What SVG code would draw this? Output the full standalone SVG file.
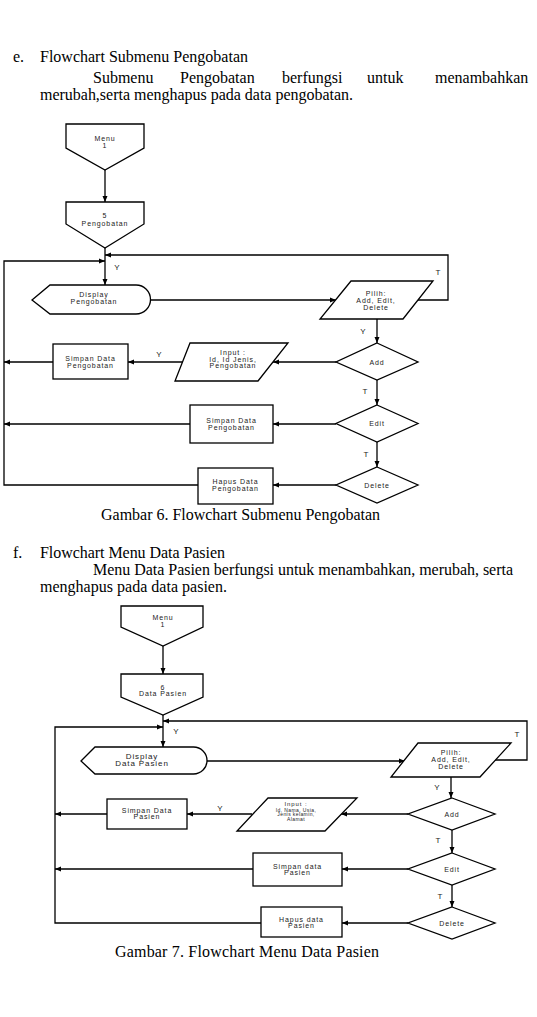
<svg xmlns="http://www.w3.org/2000/svg" width="537" height="1017" viewBox="0 0 537 1017">
<style>
.body{font-family:"Liberation Serif","Times New Roman",serif;font-size:16px;fill:#000}
.sh{fill:#fff;stroke:#000;stroke-width:1.3}
.ln{fill:none;stroke:#000;stroke-width:1.3}
.ar{marker-end:url(#ah)}
.t{font-family:"Liberation Sans",Arial,sans-serif;font-size:7px;letter-spacing:0.9px;fill:#222;text-anchor:middle}
.ts{font-family:"Liberation Sans",Arial,sans-serif;font-size:5px;letter-spacing:0.4px;fill:#222;text-anchor:middle}
.lb{font-family:"Liberation Sans",Arial,sans-serif;font-size:8px;fill:#222;text-anchor:middle}
</style>
<defs>
<marker id="ah" markerUnits="userSpaceOnUse" markerWidth="6" markerHeight="6" refX="6" refY="3" orient="auto">
<path d="M0,0.5 L6,3 L0,5.5 z" fill="#000"/>
</marker>
</defs>
<rect width="537" height="1017" fill="#fff"/>

<g id="text-e">
<text class="body" x="13" y="62">e.</text>
<text class="body" x="40" y="62" textLength="208">Flowchart Submenu Pengobatan</text>
<text class="body" x="93" y="83">Submenu</text>
<text class="body" x="180" y="83">Pengobatan</text>
<text class="body" x="282" y="83">berfungsi</text>
<text class="body" x="367" y="83">untuk</text>
<text class="body" x="435" y="83">menambahkan</text>
<text class="body" x="40" y="99.5" textLength="313">merubah,serta menghapus pada data pengobatan.</text>
<text class="body" x="101" y="520" textLength="279">Gambar 6. Flowchart Submenu Pengobatan</text>
</g>

<g id="connectors1">
<line class="ln ar" x1="105" y1="170" x2="105" y2="202"/>
<line class="ln ar" x1="105" y1="248" x2="105" y2="285"/>
<polyline class="ln ar" points="198,485 4,485 4,261 105,261"/>
<polyline class="ln ar" points="418,300 448,300 448,255 105,255"/>
<line class="ln ar" x1="150" y1="300" x2="336" y2="300"/>
<line class="ln ar" x1="377" y1="319" x2="377" y2="343"/>
<line class="ln ar" x1="336" y1="362" x2="273" y2="362"/>
<line class="ln ar" x1="183" y1="362" x2="128" y2="362"/>
<line class="ln ar" x1="53" y1="362" x2="4" y2="362"/>
<line class="ln ar" x1="377" y1="380" x2="377" y2="405"/>
<line class="ln ar" x1="336" y1="424" x2="273" y2="424"/>
<line class="ln ar" x1="190" y1="424" x2="4" y2="424"/>
<line class="ln ar" x1="377" y1="442" x2="377" y2="467"/>
<line class="ln ar" x1="336" y1="485" x2="273" y2="485"/>
<text class="lb" x="117" y="270">Y</text>
<text class="lb" x="438" y="275">T</text>
<text class="lb" x="363" y="334">Y</text>
<text class="lb" x="159" y="357">Y</text>
<text class="lb" x="365" y="394">T</text>
<text class="lb" x="366" y="457">T</text>
</g>

<g id="menu1-a">
<polygon class="sh" points="66,124 144,124 144,148 105,170 66,148"/>
<text class="t" x="105" y="140.5">Menu</text>
<text class="t" x="105" y="147.5">1</text>
</g>
<g id="pengobatan5">
<polygon class="sh" points="66,202 144,202 144,224 105,248 66,224"/>
<text class="t" x="105" y="218">5</text>
<text class="t" x="105" y="226">Pengobatan</text>
</g>
<g id="display-a">
<path class="sh" d="M32,300 L50,285 H136 A14.5,14.5 0 0 1 136,314 H50 Z"/>
<text class="t" x="94" y="297">Display</text>
<text class="t" x="94" y="304">Pengobatan</text>
</g>
<g id="pilih-a">
<polygon class="sh" points="351,281 433,281 403,319 320,319"/>
<text class="t" x="376" y="295.5">Pilih:</text>
<text class="t" x="376" y="302.5">Add, Edit,</text>
<text class="t" x="376" y="309.5">Delete</text>
</g>
<g id="add-a">
<polygon class="sh" points="377,343 418,362 377,380 336,362"/>
<text class="t" x="377" y="364.5">Add</text>
</g>
<g id="edit-a">
<polygon class="sh" points="377,405 418,423.5 377,442 336,423.5"/>
<text class="t" x="377" y="426">Edit</text>
</g>
<g id="delete-a">
<polygon class="sh" points="377,467 418,485 377,503 336,485"/>
<text class="t" x="377" y="487.5">Delete</text>
</g>
<g id="input-a">
<polygon class="sh" points="190,343 288,343 258,381 175,381"/>
<text class="t" x="233" y="354.5">Input :</text>
<text class="t" x="233" y="361.5">Id, Id Jenis,</text>
<text class="t" x="233" y="368">Pengobatan</text>
</g>
<g id="simpan-a1">
<rect class="sh" x="53" y="344" width="75" height="35"/>
<text class="t" x="90.5" y="360.5">Simpan Data</text>
<text class="t" x="90.5" y="367.5">Pengobatan</text>
</g>
<g id="simpan-a2">
<rect class="sh" x="190" y="405" width="83" height="38"/>
<text class="t" x="231.5" y="423">Simpan Data</text>
<text class="t" x="231.5" y="430">Pengobatan</text>
</g>
<g id="hapus-a">
<rect class="sh" x="198" y="468" width="75" height="36"/>
<text class="t" x="235.5" y="484">Hapus Data</text>
<text class="t" x="235.5" y="490.5">Pengobatan</text>
</g>

<g id="text-f">
<text class="body" x="13" y="558">f.</text>
<text class="body" x="40" y="558" textLength="185">Flowchart Menu Data Pasien</text>
<text class="body" x="93" y="575" textLength="420">Menu Data Pasien berfungsi untuk menambahkan, merubah, serta</text>
<text class="body" x="40" y="592" textLength="187">menghapus pada data pasien.</text>
<text class="body" x="115" y="957" textLength="264">Gambar 7. Flowchart Menu Data Pasien</text>
</g>

<g id="connectors2">
<line class="ln ar" x1="163" y1="646" x2="163" y2="674"/>
<line class="ln ar" x1="163" y1="715" x2="163" y2="747"/>
<polyline class="ln ar" points="495,760 527,760 527,721 163,721"/>
<polyline class="ln ar" points="261,923 55,923 55,727 163,727"/>
<line class="ln ar" x1="207" y1="761" x2="405" y2="761"/>
<line class="ln ar" x1="451" y1="777" x2="451" y2="798"/>
<line class="ln ar" x1="408" y1="814" x2="341" y2="814"/>
<line class="ln ar" x1="252" y1="814" x2="187" y2="814"/>
<line class="ln ar" x1="107" y1="814" x2="55" y2="814"/>
<line class="ln ar" x1="452" y1="830" x2="452" y2="853"/>
<line class="ln ar" x1="408" y1="869" x2="342" y2="869"/>
<line class="ln ar" x1="253" y1="869" x2="55" y2="869"/>
<line class="ln ar" x1="452" y1="885" x2="452" y2="907"/>
<line class="ln ar" x1="408" y1="923" x2="342" y2="923"/>
<text class="lb" x="176" y="734">Y</text>
<text class="lb" x="517" y="737">T</text>
<text class="lb" x="437" y="790">Y</text>
<text class="lb" x="220" y="811">Y</text>
<text class="lb" x="438" y="843">T</text>
<text class="lb" x="440" y="899">T</text>
</g>

<g id="menu1-b">
<polygon class="sh" points="121,606 203,606 203,627 163,646 121,627"/>
<text class="t" x="163" y="619.5">Menu</text>
<text class="t" x="163" y="626.5">1</text>
</g>
<g id="datapasien6">
<polygon class="sh" points="121,674 203,674 203,697 163,715 121,697"/>
<text class="t" x="163" y="689.5">6</text>
<text class="t" x="163" y="696">Data Pasien</text>
</g>
<g id="display-b">
<path class="sh" d="M81,761 L95,747 H193.5 A13.5,13.5 0 0 1 193.5,774 H95 Z"/>
<text class="t" x="142" y="759" style="font-size:8px">Display</text>
<text class="t" x="142" y="766" style="font-size:8px">Data Pasien</text>
</g>
<g id="pilih-b">
<polygon class="sh" points="418,743 511,743 480,777 391,777"/>
<text class="t" x="451" y="754.5">Pilih:</text>
<text class="t" x="451" y="762">Add, Edit,</text>
<text class="t" x="451" y="769">Delete</text>
</g>
<g id="add-b">
<polygon class="sh" points="452,798 495,814 452,830 408,814"/>
<text class="t" x="452" y="816.5">Add</text>
</g>
<g id="edit-b">
<polygon class="sh" points="452,853 495,869 452,885 408,869"/>
<text class="t" x="452" y="871.5">Edit</text>
</g>
<g id="delete-b">
<polygon class="sh" points="452,907 495,923 452,939 408,923"/>
<text class="t" x="452" y="925.5">Delete</text>
</g>
<g id="input-b">
<polygon class="sh" points="268,798 357,798 325,831 237,831"/>
<text class="t" x="296" y="806" style="font-size:6px">Input :</text>
<text class="ts" x="296" y="811.5">Id, Nama, Usia,</text>
<text class="ts" x="296" y="816">Jenis kelamin,</text>
<text class="ts" x="296" y="821">Alamat</text>
</g>
<g id="simpan-b1">
<rect class="sh" x="107" y="799" width="80" height="30"/>
<text class="t" x="147" y="813">Simpan Data</text>
<text class="t" x="147" y="819">Pasien</text>
</g>
<g id="simpan-b2">
<rect class="sh" x="253" y="853" width="89" height="33"/>
<text class="t" x="297.5" y="869">Simpan data</text>
<text class="t" x="297.5" y="875">Pasien</text>
</g>
<g id="hapus-b">
<rect class="sh" x="261" y="907" width="81" height="30"/>
<text class="t" x="301.5" y="922">Hapus data</text>
<text class="t" x="301.5" y="928">Pasien</text>
</g>
</svg>
